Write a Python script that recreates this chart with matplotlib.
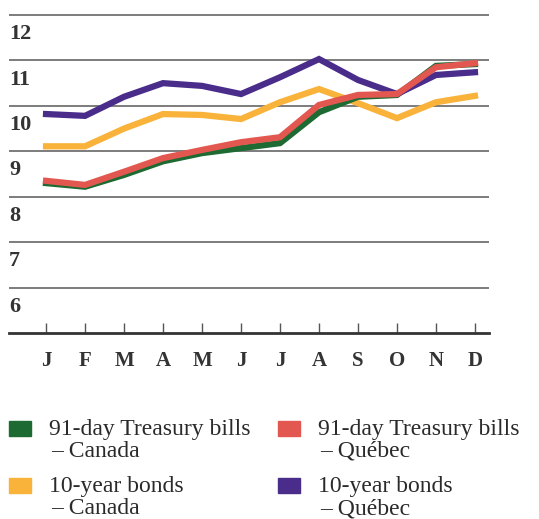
import matplotlib.pyplot as plt
import matplotlib.transforms as mtransforms
from matplotlib.patches import Rectangle

months = ['J', 'F', 'M', 'A', 'M', 'J', 'J', 'A', 'S', 'O', 'N', 'D']
y_ticks = [6, 7, 8, 9, 10, 11, 12]

tbill_canada = [8.30, 8.22, 8.48, 8.78, 8.96, 9.07, 9.18, 9.86, 10.20, 10.24, 10.88, 10.92]
tbill_quebec = [8.35, 8.26, 8.55, 8.85, 9.03, 9.20, 9.31, 10.02, 10.24, 10.26, 10.85, 10.94]
bond_canada = [9.11, 9.11, 9.50, 9.82, 9.80, 9.71, 10.08, 10.37, 10.06, 9.73, 10.08, 10.22]
bond_quebec = [9.82, 9.78, 10.20, 10.50, 10.44, 10.26, 10.63, 11.03, 10.57, 10.26, 10.68, 10.74]

labels = [('91-day Treasury bills', '– Canada'), ('91-day Treasury bills', '– Québec'),
          ('10-year bonds', '– Canada'), ('10-year bonds', '– Québec')]
colors = ['#1d6a32', '#e2574f', '#f9b23a', '#4a2c8a']

W, H = 539, 519
fig = plt.figure(figsize=(W / 100, H / 100), dpi=100)
ax = fig.add_axes([9 / W, 1 - 333 / H, 480 / W, 333 / H])

x = list(range(len(months)))
lw = 4.5
ax.plot(x, bond_canada, color=colors[2], lw=lw, solid_joinstyle='miter', zorder=3)
ax.plot(x, tbill_canada, color=colors[0], lw=lw, solid_joinstyle='miter', zorder=4)
ax.plot(x, bond_quebec, color=colors[3], lw=lw, solid_joinstyle='miter', zorder=5)
ax.plot(x, tbill_quebec, color=colors[1], lw=lw, solid_joinstyle='miter', zorder=6)

for v in y_ticks:
    ax.axhline(v, color='#666666', lw=1.2, zorder=1)

ax.set_xlim(-0.95, 11.36)
ax.set_ylim(5, 12 + 15 / 45.4)

for s in ['top', 'right', 'left']:
    ax.spines[s].set_visible(False)
ax.spines['bottom'].set_linewidth(2)
ax.spines['bottom'].set_color('#333333')
ax.set_yticks([])
ax.set_xticks(x)
ax.set_xticklabels(months, fontfamily='Liberation Serif', fontweight='bold',
                   fontsize=15, color='#333333')
ax.tick_params(axis='x', direction='in', length=7, width=1, color='#555555', pad=13)

trans = mtransforms.blended_transform_factory(fig.transFigure, ax.transData)
for v in y_ticks:
    ax.text(9 / W, v - 0.42, str(v), transform=trans, ha='left', va='center',
            fontfamily='Liberation Serif', fontweight='bold', fontsize=16, color='#333333')

# legend: square, then two text lines by baseline
legend_pos = [(9, 435), (278, 435), (9, 492), (278, 492)]
for (px, base), (l1, l2), c in zip(legend_pos, labels, colors):
    fig.patches.append(Rectangle((px / W, 1 - (base + 1) / H), 22 / W, 15 / H,
                                 transform=fig.transFigure, color=c, figure=fig))
    fig.text((px + 40) / W, 1 - base / H, l1, ha='left', va='baseline',
             fontfamily='Liberation Serif', fontsize=17, color='#2a2a2a')
    fig.text((px + 42) / W, 1 - (base + 22) / H, l2, ha='left', va='baseline',
             fontfamily='Liberation Serif', fontsize=17, color='#2a2a2a')

fig.savefig('out.png', dpi=100)
